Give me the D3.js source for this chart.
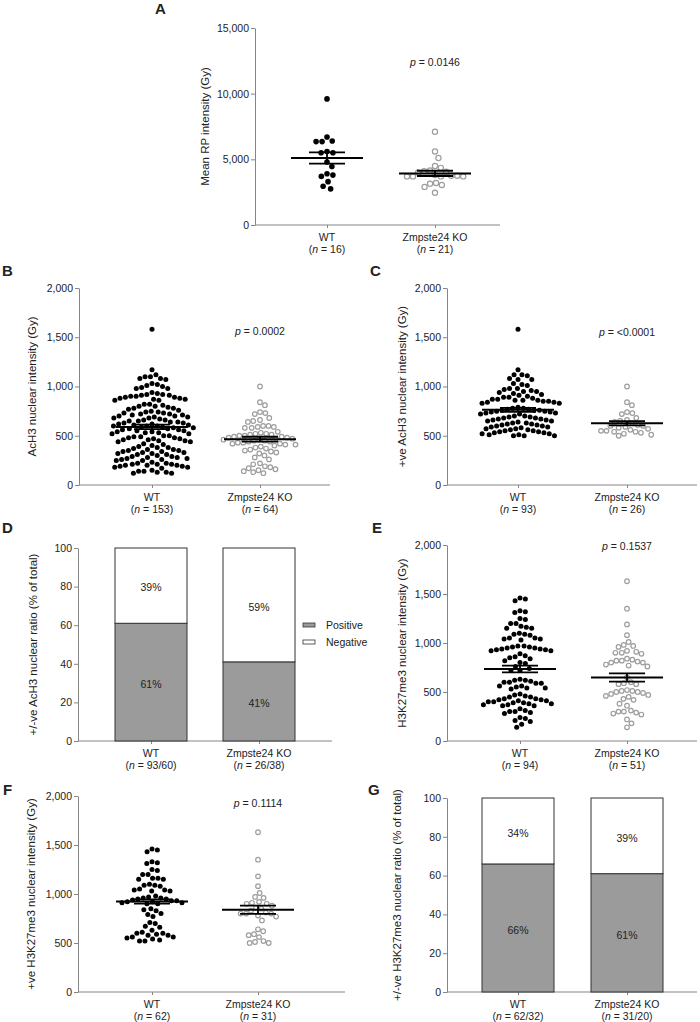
<!DOCTYPE html>
<html>
<head>
<meta charset="utf-8">
<script src="https://cdn.jsdelivr.net/npm/d3@7"></script>
<style>
body { margin: 0; background: #fff; }
svg text { font-family: "Liberation Sans", Arial, sans-serif; fill: #222; }
</style>
</head>
<body>
<script>
const groups = ["WT", "Zmpste24 KO"];

// A: mean RP intensity
const aWT = [9600, 6700, 6400, 6350, 6350, 5600, 5500, 5500, 4800, 4450, 3900, 3800, 3700, 3300, 2950, 2750];
const aKO = [7100, 5600, 5100, 4500, 4350, 4150, 4100, 4050, 4000, 3800, 3750, 3750, 3700, 3700, 3700, 3700,
  3200, 3150, 3050, 2900, 2450];
const aMean = [5100, 3930];
const aSem = [430, 200];
const aN = ["16", "21"];

// B: AcH3 nuclear intensity
const bWT = [1580, 1170,
  1120, 1100, 1100, 1080, 1080, 1070,
  1030, 1020, 1010, 1000, 990, 980, 980,
  940, 930, 920, 920, 910, 910, 900, 900, 890, 890, 880, 880, 870, 870, 860, 860,
  820, 820, 810, 800, 800, 790, 780, 780, 770, 760,
  750, 740, 740, 730, 730, 720, 720, 710, 710, 700, 700, 690, 690, 680, 680, 670,
  660, 660, 650, 650, 640, 640, 630, 630, 620, 620, 610, 610, 600, 600, 600,
  590, 590, 580, 580, 570, 570, 560, 560, 550, 550, 540, 540, 530, 530, 520, 520,
  500, 500, 490, 490, 480, 480, 470, 470, 460, 460, 450, 450, 440, 440,
  420, 410, 400, 390, 380, 380,
  370, 360, 360, 350, 350, 340, 340, 330, 330, 320, 320, 310, 310, 300,
  290, 290, 280, 280, 270, 270, 260, 260, 250, 250,
  230, 220, 220, 210, 210, 210, 200, 200, 200, 190, 190, 180, 180, 170,
  150, 140, 140, 130, 130, 120, 120];
const bKO = [1000, 840, 810,
  740, 730, 720, 680, 660, 650, 640,
  600, 600, 590, 590, 580, 580,
  540, 530, 520, 520, 510, 510, 500, 500, 490, 490, 480, 480, 470, 470,
  460, 460, 450, 450, 440, 440, 430, 430, 420, 420, 410, 410,
  400, 390, 380, 370, 360, 350, 340, 330, 320,
  300, 280, 260, 220, 210,
  190, 180, 170, 160, 150, 140, 130, 120];
const bMean = [590, 465];
const bSem = [22, 25];
const bN = ["153", "64"];

// C: +ve AcH3 nuclear intensity
const cWT = [1580, 1170,
  1120, 1110, 1080, 1070, 1070, 1120,
  1030, 1020, 1010, 980, 980, 970,
  960, 950, 950, 940, 930, 920, 910, 900, 890, 890,
  880, 870, 870, 860, 860, 860, 850, 850, 840, 840, 830, 830,
  790, 780, 780, 770, 770, 760, 760, 760, 750, 750, 740, 740, 730, 730, 720, 720,
  700, 700, 690, 690, 680, 680, 670, 670, 660, 660, 650, 650,
  640, 630, 630, 620, 620, 610, 610, 600, 600, 590, 590, 580,
  570, 570, 560, 560, 550, 550, 540, 540, 530, 530, 520, 520,
  510, 510, 500, 500, 500];
const cKO = [1000, 840, 810, 740, 730, 720, 680, 660, 650, 640, 630, 610, 600, 600, 590, 580,
  570, 560, 550, 550, 540, 540, 530, 520, 510, 500];
const cMean = [763, 627];
const cSem = [20, 22];
const cN = ["93", "26"];

// D: +/-ve AcH3 ratio
const dPositive = [61, 41];
const dNegative = [39, 59];
const dN = ["93/60", "26/38"];

// E: H3K27me3 nuclear intensity
const eWT = [1460, 1450, 1430, 1330, 1320, 1310, 1250, 1240,
  1200, 1200, 1170, 1160, 1150, 1150,
  1100, 1090, 1090, 1080,
  1050, 1050, 1040, 1040, 1030,
  970, 970, 960, 960, 950, 950, 940, 940, 930, 930, 920, 920,
  890, 870, 860, 850, 840,
  820, 800, 790,
  760, 740, 720, 720,
  630, 620, 620, 610, 600, 600, 590, 590,
  560, 560, 550, 540, 540, 530,
  480, 470, 460, 450, 450,
  430, 430, 420, 420, 410, 410, 400, 400, 390, 390, 380, 380, 370, 370, 360, 360,
  330, 310, 300, 300, 290, 280,
  240, 230, 210, 200,
  170, 140];
const eKO = [1630, 1350, 1190, 1080, 1010, 980, 970, 960,
  920, 910, 900, 900, 890,
  840, 830, 820, 820, 810, 800, 800,
  780, 770, 760,
  650, 600, 590, 580, 580,
  520, 510, 510, 500, 500, 490, 480, 470, 460, 450,
  430, 420, 380, 360,
  310, 300, 300, 290, 280, 270,
  220, 180, 140];
const eMean = [735, 648];
const eSem = [35, 43];
const eN = ["94", "51"];

// F: +ve H3K27me3 nuclear intensity
const fWT = [1460, 1450, 1430, 1330, 1320, 1310, 1250, 1240,
  1200, 1200, 1160, 1160, 1150, 1150,
  1100, 1090, 1090, 1080,
  1050, 1040, 1040, 1030, 1030,
  980, 970, 960, 960, 950, 950, 940,
  930, 930, 920, 920, 910, 910, 900, 900,
  850, 840, 830, 800, 790, 770,
  710, 700, 670, 660, 630,
  610, 600, 600, 590, 580, 580,
  560, 560, 550, 540, 530, 520, 520];
const fKO = [1630, 1350, 1180, 1080, 1010, 970, 960, 920, 910, 900, 900, 880,
  860, 850, 830, 810, 800, 800, 800, 780, 770, 730,
  640, 620, 590, 580, 560, 520, 510, 500, 500];
const fMean = [924, 840];
const fSem = [22, 42];
const fN = ["62", "31"];

// G: +/-ve H3K27me3 ratio
const gPositive = [66, 61];
const gNegative = [34, 39];
const gN = ["62/32", "31/20"];

const axisGrey = "#858585";
const fmt = d3.format(",");

const svg = d3.select("body").append("svg")
  .attr("width", 700)
  .attr("height", 1022);

// axes, labels and panel letter shared by every panel
function frame(o) {
  const g = svg.append("g");
  const y = d3.scaleLinear().domain([0, o.max]).range([o.bot, o.top]);
  const x = d3.scalePoint().domain(groups).range(o.cx);

  const yAx = g.append("g")
    .attr("transform", `translate(${o.x0},0)`)
    .call(d3.axisLeft(y).tickValues(o.ticks).tickSize(4).tickSizeOuter(0).tickPadding(2).tickFormat(fmt));
  yAx.select(".domain").attr("stroke", axisGrey);
  yAx.selectAll(".tick line").attr("stroke", axisGrey);
  yAx.selectAll("text").style("font-size", "10.5px");

  g.append("line")
    .attr("x1", o.x0).attr("x2", o.x1)
    .attr("y1", o.bot).attr("y2", o.bot)
    .attr("stroke", axisGrey);
  const xAx = g.append("g")
    .attr("transform", `translate(0,${o.bot})`)
    .call(d3.axisBottom(x).tickSize(3).tickFormat(""));
  xAx.select(".domain").remove();
  xAx.selectAll(".tick line").attr("stroke", axisGrey);

  groups.forEach((c, i) => {
    g.append("text")
      .attr("x", x(c)).attr("y", o.bot + 16)
      .attr("text-anchor", "middle")
      .style("font-size", "10.5px")
      .text(c);
    const t = g.append("text")
      .attr("x", x(c)).attr("y", o.bot + 28)
      .attr("text-anchor", "middle")
      .style("font-size", "10.5px");
    t.append("tspan").text("(");
    t.append("tspan").style("font-style", "italic").text("n");
    t.append("tspan").text(" = " + o.n[i] + ")");
  });

  g.append("text")
    .attr("transform", `translate(${o.titleX},${(o.top + o.bot) / 2}) rotate(-90)`)
    .attr("dy", "0.35em")
    .attr("text-anchor", "middle")
    .style("font-size", "11.5px")
    .text(o.title);

  g.append("text")
    .attr("x", o.letter[0]).attr("y", o.letter[1])
    .style("font-size", "15px")
    .style("font-weight", "bold")
    .attr("fill", "#111")
    .text(o.name);

  return { g, x, y };
}

// beeswarm with a squashed vertical distance so dots spread out into flat rows
function swarm(values, y, r, cx) {
  const d = 2 * r + 0.4;
  const k = 0.75;
  const pts = values.map(v => ({ v, py: y(v) })).sort((a, b) => a.py - b.py);
  const placed = [];
  pts.forEach(p => {
    const near = placed.filter(q => Math.abs(q.py - p.py) * k < d);
    const cands = [0];
    near.forEach(q => {
      const dy = (q.py - p.py) * k;
      const dx = Math.sqrt(d * d - dy * dy);
      cands.push(q.dx + dx, q.dx - dx);
    });
    cands.sort((a, b) => Math.abs(a) - Math.abs(b));
    p.dx = cands.find(c => near.every(q => (q.dx - c) ** 2 + ((q.py - p.py) * k) ** 2 >= d * d - 0.01));
    placed.push(p);
  });
  return pts.map(p => ({ x: cx + p.dx, y: p.py }));
}

function dotPanel(o) {
  const { g, x, y } = frame(o);
  const r = o.r;

  g.selectAll(null)
    .data(swarm(o.wt, y, r, x(groups[0])))
    .enter().append("circle")
    .attr("cx", d => d.x).attr("cy", d => d.y)
    .attr("r", r)
    .attr("fill", "#000");

  g.selectAll(null)
    .data(swarm(o.ko, y, r, x(groups[1])))
    .enter().append("circle")
    .attr("cx", d => d.x).attr("cy", d => d.y)
    .attr("r", r - 0.2)
    .attr("fill", "#fff")
    .attr("stroke", "#9d9d9d")
    .attr("stroke-width", 1.2);

  // mean +/- SEM
  groups.forEach((c, i) => {
    const cx = x(c);
    const m = o.mean[i], s = o.sem[i];
    g.append("line")
      .attr("x1", cx - 36).attr("x2", cx + 36)
      .attr("y1", y(m)).attr("y2", y(m))
      .attr("stroke", "#000").attr("stroke-width", 2);
    [m - s, m + s].forEach(v => {
      g.append("line")
        .attr("x1", cx - 18).attr("x2", cx + 18)
        .attr("y1", y(v)).attr("y2", y(v))
        .attr("stroke", "#000").attr("stroke-width", 1.8);
    });
    g.append("line")
      .attr("x1", cx).attr("x2", cx)
      .attr("y1", y(m - s)).attr("y2", y(m + s))
      .attr("stroke", "#000").attr("stroke-width", 1.8);
  });

  const pt = g.append("text")
    .attr("x", x(groups[1])).attr("y", o.pY)
    .attr("text-anchor", "middle")
    .style("font-size", "10.5px");
  pt.append("tspan").style("font-style", "italic").text("p");
  pt.append("tspan").text(" = " + o.p);
}

function stackPanel(o) {
  const { g, x, y } = frame(o);
  const table = groups.map((c, i) => ({ group: c, Positive: o.pos[i], Negative: o.neg[i] }));
  const series = d3.stack().keys(["Positive", "Negative"])(table);
  const fills = { Positive: "#9b9b9b", Negative: "#fff" };
  const bw = 72;

  series.forEach(s => {
    g.selectAll(null)
      .data(s)
      .enter().append("rect")
      .attr("x", d => x(d.data.group) - bw / 2)
      .attr("y", d => y(d[1]))
      .attr("width", bw)
      .attr("height", d => y(d[0]) - y(d[1]))
      .attr("fill", fills[s.key])
      .attr("stroke", "#333")
      .attr("stroke-width", 1);
    g.selectAll(null)
      .data(s)
      .enter().append("text")
      .attr("x", d => x(d.data.group))
      .attr("y", d => y((d[0] + d[1]) / 2))
      .attr("dy", "0.55em")
      .attr("text-anchor", "middle")
      .style("font-size", "10.5px")
      .text(d => (d[1] - d[0]) + "%");
  });

  if (o.legend) {
    ["Positive", "Negative"].forEach((k, i) => {
      g.append("rect")
        .attr("x", o.legend[0]).attr("y", o.legend[1] + i * 17 - 2)
        .attr("width", 12).attr("height", 4)
        .attr("fill", fills[k])
        .attr("stroke", "#333").attr("stroke-width", 0.8);
      g.append("text")
        .attr("x", o.legend[0] + 23).attr("y", o.legend[1] + i * 17 + 4)
        .style("font-size", "10.5px")
        .text(k);
    });
  }
}

const intTicks = [0, 500, 1000, 1500, 2000];
const pctTicks = [0, 20, 40, 60, 80, 100];

dotPanel({
  name: "A", letter: [155, 14], x0: 255, x1: 500, top: 28, bot: 225, cx: [327, 435],
  max: 15000, ticks: [0, 5000, 10000, 15000], titleX: 205, title: "Mean RP intensity (Gy)",
  wt: aWT, ko: aKO, mean: aMean, sem: aSem, n: aN, r: 2.8, p: "0.0146", pY: 66
});

dotPanel({
  name: "B", letter: [2, 276], x0: 79, x1: 330, top: 288, bot: 485, cx: [152, 260],
  max: 2000, ticks: intTicks, titleX: 32, title: "AcH3 nuclear intensity (Gy)",
  wt: bWT, ko: bKO, mean: bMean, sem: bSem, n: bN, r: 2.5, p: "0.0002", pY: 335
});

dotPanel({
  name: "C", letter: [370, 276], x0: 447, x1: 697, top: 288, bot: 485, cx: [518, 627],
  max: 2000, ticks: intTicks, titleX: 402, title: "+ve AcH3 nuclear intensity (Gy)",
  wt: cWT, ko: cKO, mean: cMean, sem: cSem, n: cN, r: 2.5, p: "<0.0001", pY: 336
});

stackPanel({
  name: "D", letter: [2, 533], x0: 78, x1: 332, top: 548, bot: 741, cx: [151, 259],
  max: 100, ticks: pctTicks, titleX: 33, title: "+/-ve AcH3 nuclear ratio (% of total)",
  pos: dPositive, neg: dNegative, n: dN, legend: [303, 625]
});

dotPanel({
  name: "E", letter: [372, 533], x0: 447, x1: 697, top: 545, bot: 741, cx: [520, 627],
  max: 2000, ticks: intTicks, titleX: 402, title: "H3K27me3 nuclear intensity (Gy)",
  wt: eWT, ko: eKO, mean: eMean, sem: eSem, n: eN, r: 2.5, p: "0.1537", pY: 550
});

dotPanel({
  name: "F", letter: [3, 795], x0: 78, x1: 345, top: 796, bot: 992, cx: [152, 258],
  max: 2000, ticks: intTicks, titleX: 31, title: "+ve H3K27me3 nuclear intensity (Gy)",
  wt: fWT, ko: fKO, mean: fMean, sem: fSem, n: fN, r: 2.5, p: "0.1114", pY: 807
});

stackPanel({
  name: "G", letter: [368, 795], x0: 447, x1: 697, top: 798, bot: 992, cx: [518, 627],
  max: 100, ticks: pctTicks, titleX: 397, title: "+/-ve H3K27me3 nuclear ratio (% of total)",
  pos: gPositive, neg: gNegative, n: gN
});
</script>
</body>
</html>
